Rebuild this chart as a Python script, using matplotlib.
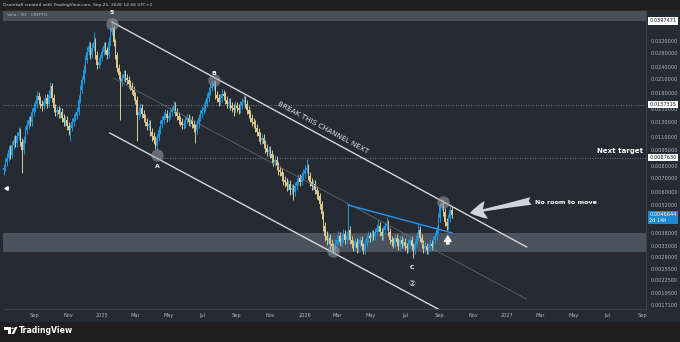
# -*- coding: utf-8 -*-
"""
  Velo 3D - canal baissier (copie d'un graphique TradingView)
"""
import numpy as np
import pandas as pd
import matplotlib
matplotlib.use('Agg')
import matplotlib.pyplot as plt
import matplotlib.dates as mdates
from matplotlib.patches import Rectangle, Polygon, Circle

# bougies 3D, prix en unités de 1e-5
start = '2024-07-08'
first_open = 760
closes = [
    781, 834, 872, 953, 901, 1007, 1064, 1030, 1112, 1163,
    1041, 953, 1064, 1189, 1256, 1328, 1299, 1451, 1517, 1585,
    1732, 1657, 1585, 1551, 1621, 1694, 1585, 1752, 1935, 1694,
    1517, 1451, 1484, 1419, 1451, 1358, 1299, 1328, 1243, 1189,
    1216, 1299, 1358, 1388, 1451, 1657, 1851, 2068, 2310, 2581,
    2820, 3014, 2728, 2948, 3150, 2728, 2442, 2524, 2639, 2820,
    3014, 2883, 2728, 3150, 3519, 3679, 3150, 2728, 2362, 2186,
    2023, 2115, 2210, 2115, 2068, 1978, 1935, 1851, 1732, 1657,
    1404, 1451, 1517, 1419, 1358, 1299, 1243, 1270, 1163, 1112,
    1064, 996, 1088, 1189, 1270, 1328, 1388, 1419, 1358, 1388,
    1451, 1484, 1551, 1451, 1388, 1328, 1299, 1256, 1270, 1328,
    1358, 1299, 1328, 1270, 1216, 1189, 1270, 1358, 1419, 1484,
    1517, 1585, 1694, 1811, 1893, 1935, 1978, 1752, 1694, 1621,
    1694, 1771, 1732, 1657, 1585, 1621, 1551, 1517, 1484, 1551,
    1517, 1484, 1551, 1621, 1657, 1585, 1484, 1419, 1358, 1299,
    1270, 1216, 1163, 1112, 1064, 1088, 1018, 974, 932, 953,
    911, 872, 834, 853, 798, 763, 747, 714, 683, 668,
    639, 654, 612, 625, 598, 639, 668, 699, 668, 714,
    730, 763, 781, 714, 668, 639, 654, 612, 585, 572,
    524, 469, 411, 368, 352, 360, 337, 329, 315, 337,
    352, 368, 344, 360, 376, 352, 368, 393, 352, 337,
    329, 344, 322, 337, 352, 329, 315, 337, 360, 368,
    360, 376, 368, 384, 402, 411, 384, 368, 393, 411,
    420, 384, 352, 344, 337, 360, 344, 329, 352, 337,
    344, 329, 322, 337, 352, 329, 315, 337, 368, 393,
    360, 337, 322, 329, 315, 322, 337, 329, 352, 368,
    393, 449, 512, 524, 479, 429, 411, 449, 490, 466,
]
highs = [
    820, 871, 917, 999, 1010, 1056, 1117, 1128, 1169, 1225,
    1215, 1087, 1112, 1245, 1322, 1394, 1384, 1517, 1599, 1660,
    1825, 1814, 1732, 1660, 1702, 1773, 1763, 1845, 2030, 2009,
    1763, 1589, 1558, 1548, 1527, 1512, 1415, 1394, 1384, 1297,
    1271, 1363, 1425, 1456, 1527, 1743, 1948, 2173, 2440, 2716,
    2973, 3178, 3157, 3106, 3520, 3280, 2850, 2665, 2768, 2962,
    3167, 3137, 2993, 3311, 3711, 3975, 3813, 3260, 2829, 2460,
    2276, 2214, 2317, 2306, 2204, 2153, 2071, 2019, 1927, 1804,
    1732, 1527, 1599, 1584, 1481, 1415, 1353, 1333, 1322, 1215,
    1163, 1107, 1138, 1245, 1333, 1394, 1456, 1497, 1481, 1456,
    1522, 1558, 1640, 1620, 1512, 1445, 1384, 1353, 1333, 1394,
    1425, 1415, 1394, 1384, 1322, 1271, 1333, 1425, 1486, 1558,
    1599, 1660, 1784, 1907, 1999, 2040, 2060, 2050, 1835, 1763,
    1773, 1876, 1845, 1804, 1732, 1702, 1691, 1620, 1584, 1630,
    1620, 1584, 1630, 1702, 1743, 1732, 1650, 1548, 1481, 1415,
    1363, 1327, 1271, 1215, 1163, 1143, 1138, 1066, 1020, 999,
    994, 953, 912, 897, 892, 835, 800, 784, 748, 718,
    697, 687, 682, 656, 656, 671, 702, 733, 728, 748,
    769, 805, 860, 815, 743, 697, 687, 682, 636, 610,
    595, 543, 487, 431, 387, 381, 377, 354, 342, 354,
    371, 387, 384, 379, 398, 394, 390, 518, 410, 367,
    353, 361, 359, 354, 369, 367, 342, 353, 377, 387,
    385, 395, 394, 403, 422, 439, 428, 400, 412, 431,
    454, 439, 400, 369, 361, 377, 375, 359, 369, 367,
    361, 359, 342, 354, 369, 367, 342, 353, 385, 425,
    410, 375, 353, 346, 342, 338, 354, 353, 369, 385,
    412, 472, 538, 554, 548, 500, 447, 469, 513, 513,
]
lows = [
    722, 751, 800, 839, 858, 868, 965, 985, 990, 1068,
    995, 740, 907, 1024, 1141, 1204, 1238, 1248, 1394, 1458,
    1521, 1580, 1511, 1472, 1492, 1560, 1521, 1531, 1687, 1619,
    1453, 1385, 1394, 1355, 1365, 1297, 1238, 1248, 1190, 1121,
    1055, 1170, 1248, 1307, 1336, 1404, 1599, 1784, 1989, 2223,
    2486, 2720, 2623, 2633, 2847, 2623, 2340, 2350, 2438, 2545,
    2720, 2769, 2623, 2633, 3042, 3393, 3023, 2623, 2262, 2096,
    1330, 1940, 2038, 2028, 1979, 1901, 1853, 1775, 1658, 1580,
    1055, 1336, 1394, 1355, 1297, 1238, 1185, 1194, 1107, 1058,
    1014, 960, 956, 1048, 1141, 1219, 1277, 1336, 1302, 1307,
    1336, 1394, 1428, 1394, 1331, 1268, 1243, 1199, 1204, 1219,
    1277, 1243, 1248, 1214, 1160, 1030, 1141, 1219, 1307, 1365,
    1424, 1458, 1531, 1628, 1745, 1823, 1853, 1677, 1619, 1550,
    1560, 1628, 1658, 1589, 1516, 1521, 1482, 1453, 1385, 1428,
    1453, 1424, 1433, 1492, 1560, 1521, 1424, 1360, 1297, 1238,
    1209, 1160, 1107, 1058, 1014, 1019, 970, 926, 887, 892,
    868, 829, 795, 800, 761, 726, 712, 678, 648, 634,
    605, 609, 580, 585, 548, 575, 614, 644, 639, 644,
    687, 702, 736, 683, 639, 609, 614, 585, 556, 546,
    497, 444, 390, 346, 332, 336, 320, 310, 306, 302,
    322, 336, 330, 330, 345, 336, 337, 353, 336, 322,
    312, 314, 306, 308, 324, 314, 300, 302, 324, 345,
    343, 345, 351, 353, 369, 386, 367, 351, 353, 376,
    394, 367, 336, 329, 322, 324, 329, 314, 316, 322,
    322, 314, 306, 308, 322, 314, 288, 302, 324, 353,
    343, 322, 306, 308, 300, 302, 310, 314, 316, 337,
    353, 378, 431, 488, 458, 410, 392, 395, 431, 449,
]

price_ticks = [0.032, 0.028, 0.024, 0.021, 0.018, 0.015, 0.013, 0.011, 0.0095,
               0.008, 0.007, 0.006, 0.0052, 0.0038, 0.0033, 0.0029, 0.00255,
               0.00225, 0.00195, 0.00171]
tick_dates = ['2024-09-01', '2024-11-01', '2025-01-01', '2025-03-01', '2025-05-01',
              '2025-07-01', '2025-09-01', '2025-11-01', '2026-01-01', '2026-03-01',
              '2026-05-01', '2026-07-01', '2026-09-01', '2026-11-01', '2027-01-01',
              '2027-03-01', '2027-05-01', '2027-07-01', '2027-09-01']
tick_labels = ['Sep', 'Nov', '2025', 'Mar', 'May', 'Jul', 'Sep', 'Nov', '2026', 'Mar',
               'May', 'Jul', 'Sep', 'Nov', '2027', 'Mar', 'May', 'Jul', 'Sep']

marked_prices = [0.0397471, 0.0157315, 0.0087630]
last_price = 0.0046644
countdown = '2d 14h'

# dessins
zone = [0.00308, 0.00380]
upper_line = (['2025-01-19', '2027-02-05'], [0.0393, 0.003256])
lower_line = (['2025-01-15', '2026-09-02'], [0.0115, 0.00162])
mid_line = (['2025-01-21', '2027-02-05'], [0.02115, 0.00183])
blue_line = (['2026-03-20', '2026-09-24'], [0.00518, 0.00380])
circle_dates = ['2025-01-19', '2025-07-21', '2025-04-10', '2026-02-21', '2026-09-07']
circle_prices = [0.03845, 0.02068, 0.00901, 0.00311, 0.00536]
wave_labels = ['5', 'B', 'A']
target_from = '2025-04-10'

BG = '#262a33'
DARK = '#1e1e1e'
UP = '#1e96dc'
DOWN = '#dcc88c'
TXT = '#b2b5be'

def dn(s):
    return mdates.date2num(pd.to_datetime(s))

fig = plt.figure(figsize=(6.8, 3.42), dpi=100)
fig.patch.set_facecolor(DARK)
fig.patches.append(Rectangle((0, 1 - 322/342), 1, 312/342, transform=fig.transFigure,
                             facecolor=BG, edgecolor='none', zorder=-5))
ax = fig.add_axes([3/680, 1 - 309/342, 643/680, 298/342])
ax.set_facecolor(BG)

dates = pd.date_range(start, periods=len(closes), freq='3D')
d = mdates.date2num(dates)
c = np.array(closes) * 1e-5
o = np.array([first_open] + closes[:-1]) * 1e-5
hi = np.array(highs) * 1e-5
lo = np.array(lows) * 1e-5
col = np.where(c >= o, UP, DOWN)
ax.vlines(d, lo, hi, colors=col, lw=0.7, zorder=3)
ax.bar(d, np.abs(c - o), bottom=np.minimum(o, c), width=2.4, color=col, lw=0, zorder=3)

ax.set_yscale('log')
jan = dn('2025-01-01')
ax.set_xlim(jan - 178.4, jan + 980.2)
ax.set_ylim(0.001638, 0.0444)

# zones
ax.axhspan(zone[0], zone[1], color='#5a656f', alpha=0.7, lw=0, zorder=1)
ax.axhspan(marked_prices[0], 0.05, color='#4a4f57', lw=0, zorder=1)
ax.axhline(marked_prices[1], color='#9598a1', lw=0.6, ls=(0, (1, 2)), zorder=2)
ax.plot([dn(target_from), jan + 980.2], [marked_prices[2]] * 2, color='#9598a1',
        lw=0.6, ls=(0, (1, 2)), zorder=2)

# canal
for ln, lw, cc in [(upper_line, 1.0, '#d6d6d6'), (lower_line, 1.0, '#d6d6d6'),
                   (mid_line, 0.5, '#6c7079')]:
    ax.plot([dn(s) for s in ln[0]], ln[1], color=cc, lw=lw, zorder=4)
ax.plot([dn(s) for s in blue_line[0]], blue_line[1], color='#2196f3', lw=1.0, zorder=5)

cd = [dn(s) for s in circle_dates]
ax.scatter(cd, circle_prices, s=80, color='#9a9ea6', alpha=0.55, lw=0, zorder=6)
for lab, x, y, off in zip(wave_labels, cd, circle_prices, [8, 5, -8.5]):
    ax.annotate(lab, (x, y), xytext=(0, off), textcoords='offset points', ha='center',
                va='center', color='white', fontsize=4.5, fontweight='bold', zorder=7)
ax.text(dn('2026-07-14'), 0.00258, 'C', color='white', fontsize=4.5, fontweight='bold',
        ha='center', va='center')
ax.text(dn('2026-07-14'), 0.00218, '②', color='white', fontsize=5.5, ha='center', va='center')

# texte incliné le long du canal
p1 = ax.transData.transform((dn(upper_line[0][0]), upper_line[1][0]))
p2 = ax.transData.transform((dn(upper_line[0][1]), upper_line[1][1]))
ang = np.degrees(np.arctan2(p2[1] - p1[1], p2[0] - p1[0]))
ax.text(dn('2026-02-03'), 0.01216, 'BREAK THIS CHANNEL NEXT', rotation=ang,
        rotation_mode='anchor', ha='center', va='center', color='#e0e3eb', fontsize=5.2)

ax.annotate('Next target', (0.995, 0.00942), xycoords=('axes fraction', 'data'),
            ha='right', va='center', color='white', fontsize=5, fontweight='bold')
ax.text(dn('2027-02-20'), 0.00530, 'No room to move', color='white', fontsize=4.6,
        fontweight='bold', ha='left', va='center')
ax.annotate('', xy=(dn('2026-10-26'), 0.00474), xytext=(dn('2027-02-13'), 0.00542),
            arrowprops=dict(arrowstyle='fancy,head_length=1.2,head_width=1.3,tail_width=0.55',
                            fc='#d1d4dc', ec='none', shrinkA=0, shrinkB=0, mutation_scale=10),
            zorder=8)
ax.annotate('', xy=(dn('2026-09-16'), 0.00372), xytext=(dn('2026-09-16'), 0.00334),
            arrowprops=dict(arrowstyle='simple,head_length=0.7,head_width=0.9,tail_width=0.4',
                            fc='white', ec='none', shrinkA=0, shrinkB=0, mutation_scale=7),
            zorder=8)
ax.plot([0.004], [0.00625], marker='<', ms=2.5, color='white', transform=ax.get_yaxis_transform(),
        clip_on=False)

# axes
ax.yaxis.tick_right()
ax.minorticks_off()
ax.set_yticks(price_ticks)
ax.set_yticklabels(['%.7f' % v for v in price_ticks])
ax.set_xticks([dn(s) for s in tick_dates])
ax.set_xticklabels(tick_labels)
ax.tick_params(axis='both', length=0, labelsize=3.6, labelcolor=TXT, pad=3)
for s in ['left', 'top']:
    ax.spines[s].set_visible(False)
for s in ['bottom', 'right']:
    ax.spines[s].set_color('#434651')
    ax.spines[s].set_linewidth(0.6)

for v in marked_prices:
    ax.annotate('%.7f' % v, (1, v), xycoords=('axes fraction', 'data'), xytext=(2.5, 0),
                textcoords='offset points', ha='left', va='center', fontsize=3.6,
                color='#131722', bbox=dict(boxstyle='square,pad=0.25', fc='white', ec='none'),
                annotation_clip=False)
ax.annotate('%.7f\n%s' % (last_price, countdown), (1, last_price), xycoords=('axes fraction', 'data'),
            xytext=(2.5, -2.2), textcoords='offset points', ha='left', va='center', fontsize=3.6,
            color='white', linespacing=1.1,
            bbox=dict(boxstyle='square,pad=0.25', fc='#1e88d0', ec='none'), annotation_clip=False)

# en-têtes et pied
fig.text(3/680, 1 - 5/342, 'Osemka8 created with TradingView.com, Sep 25, 2026 12:56 UTC+2',
         color='#d1d4dc', fontsize=3.2, va='center')
ax.text(0.006, 0.985, 'Velo · 3D · CRYPTO', transform=ax.transAxes, color=TXT, fontsize=3.2,
        va='center', zorder=9)
fx = lambda x: x / 680
fy = lambda y: 1 - y / 342
fig.patches.append(Polygon([(fx(4), fy(327)), (fx(10.5), fy(327)), (fx(10.5), fy(334)),
                            (fx(8), fy(334)), (fx(8), fy(329.5)), (fx(4), fy(329.5))],
                           closed=True, transform=fig.transFigure, fc='white', ec='none'))
fig.patches.append(Circle((fx(12.5), fy(328.3)), 1.3/680, transform=fig.transFigure,
                          fc='white', ec='none'))
fig.patches.append(Polygon([(fx(15), fy(327)), (fx(17.5), fy(327)), (fx(14), fy(334)),
                            (fx(11.5), fy(334))], closed=True, transform=fig.transFigure,
                           fc='white', ec='none'))
fig.text(fx(19), fy(330.5), 'TradingView', color='white', fontsize=5.6, fontweight='bold',
         va='center')

fig.savefig('out.png', dpi=100, facecolor=fig.get_facecolor())
